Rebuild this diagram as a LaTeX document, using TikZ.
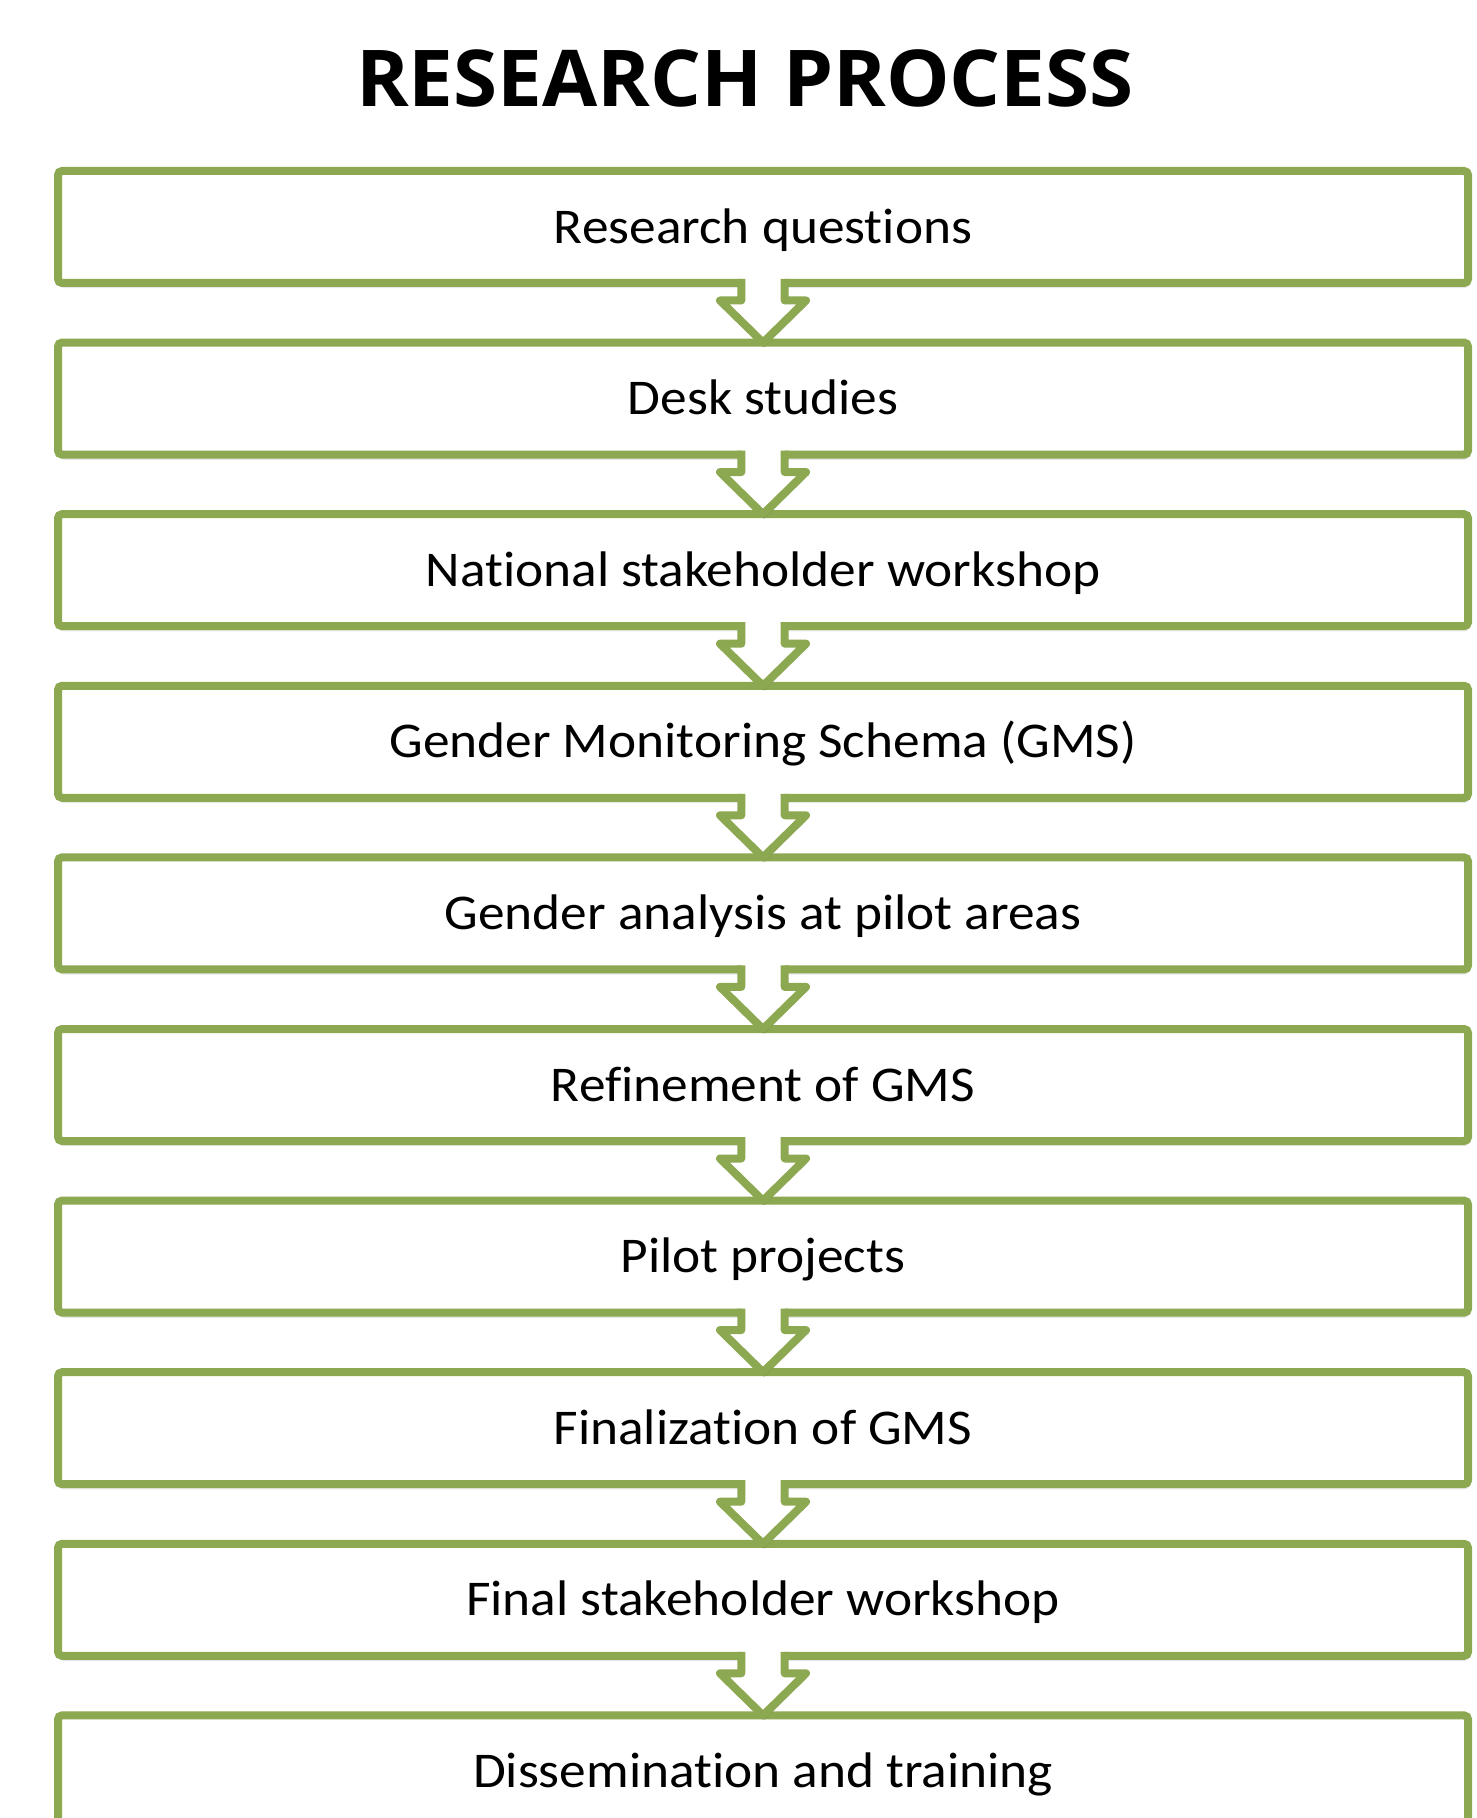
\documentclass[tikz,border=0pt]{standalone}
\usepackage{fontspec}
\setmainfont{Carlito}[FakeStretch=1.067, Ligatures=NoCommon]
\newfontfamily\titlefont{Open Sans}[FakeStretch=1.02]
\usetikzlibrary{calc,shadows}
\definecolor{boxgreen}{RGB}{140,168,80}
\begin{document}
\begin{tikzpicture}[x=0.5pt,y=-0.5pt,
  stepbox/.style={draw=boxgreen, line width=4pt, fill=white, rounded corners=2pt,
    minimum width=705pt, minimum height=56pt, inner sep=0pt, outer sep=0pt,
    text height=16.1pt, text depth=0pt, font=\fontsize{25pt}{30pt}\selectfont,
    drop shadow={opacity=0.18, shadow xshift=0.6pt, shadow yshift=-2.6pt}},
  arrowline/.style={draw=boxgreen, line width=4pt, line join=round},
  arrowfill/.style={fill=white},
  arrowshadow/.style={fill=black, opacity=0.15},
  titlestyle/.style={font=\titlefont\fontsize{39.2pt}{45pt}\bfseries\selectfont, anchor=base, inner sep=0pt}
]
\useasboundingbox (0,0) rectangle (1476,1818);
\node[titlestyle] (title) at (745,107) {RESEARCH PROCESS};
\foreach \t [count=\i] in {Research questions, Desk studies, National stakeholder workshop,
  Gender Monitoring Schema (GMS), Gender analysis at pilot areas, Refinement of GMS,
  Pilot projects, Finalization of GMS, Final stakeholder workshop, Dissemination and training}{
  \node[stepbox] (b\i) at (763,{227+(\i-1)*171.6}) {\t};
}
\foreach \i in {1,...,9}{
  \pgfmathtruncatemacro\j{\i+1}
  \fill[arrowshadow] ($(b\i.south)+(-42,22)$) -- ($(b\j.north)+(1,5)$) -- ($(b\i.south)+(44,22)$) -- cycle;
  \fill[arrowfill] ($(b\i.south)+(-21.7,-8)$) -- ($(b\i.south)+(-21.7,17.5)$) -- ($(b\i.south)+(-43,17.5)$)
     -- (b\j.north) -- ($(b\i.south)+(43,17.5)$) -- ($(b\i.south)+(21.7,17.5)$) -- ($(b\i.south)+(21.7,-8)$) -- cycle;
  \draw[arrowline] ($(b\i.south)+(-21.7,-4)$) -- ($(b\i.south)+(-21.7,17.5)$) -- ($(b\i.south)+(-43,17.5)$)
     -- (b\j.north) -- ($(b\i.south)+(43,17.5)$) -- ($(b\i.south)+(21.7,17.5)$) -- ($(b\i.south)+(21.7,-4)$);
}
\end{tikzpicture}
\end{document}
